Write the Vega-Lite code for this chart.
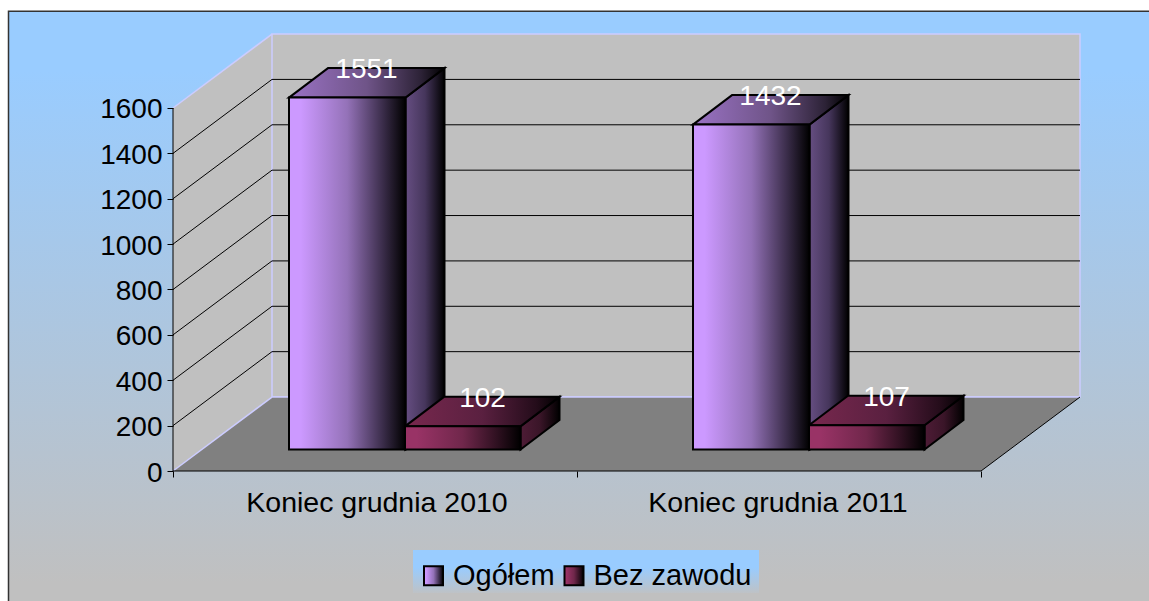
{
"$schema":"https://vega.github.io/schema/vega-lite/v6.json",
"width":1149,"height":601,"padding":0,"autosize":{"type":"none"},"background":"white",
"config":{"view":{"stroke":null},"font":"Liberation Sans","text":{"font":"Liberation Sans"}},
"datasets":{
"bars":[
{"category":"Koniec grudnia 2010","series":"Ogółem","value":1551},
{"category":"Koniec grudnia 2010","series":"Bez zawodu","value":102},
{"category":"Koniec grudnia 2011","series":"Ogółem","value":1432},
{"category":"Koniec grudnia 2011","series":"Bez zawodu","value":107}],
"ticks":[{"tick":200},{"tick":400},{"tick":600},{"tick":800},{"tick":1000},{"tick":1200},{"tick":1400}],
"cats":[{"category":"Koniec grudnia 2010","c":377},{"category":"Koniec grudnia 2011","c":778}],
"one":[{"n":1}]
},
"resolve":{"axis":{"x":"independent","y":"independent"}},
"layer":[
{"data":{"name":"one"},"mark":{"type":"rect","stroke":"#333333","strokeWidth":1.5,"fill":{"gradient":"linear","x1":0,"y1":0,"x2":0,"y2":1,"stops":[{"offset":0,"color":"#99CCFF"},{"offset":0.1,"color":"#99CCFF"},{"offset":0.96,"color":"#C0C0C0"},{"offset":1,"color":"#C0C0C0"}]}},
"encoding":{"x":{"datum":8.5,"type":"quantitative","scale":{"domain":[0,1149],"nice":false,"zero":false},"axis":{"values":[173,577,981],"orient":"bottom","offset":-130,"labels":false,"domain":false,"grid":false,"tickSize":6,"tickColor":"black","title":null,"zindex":1}},"x2":{"datum":1160},
"y":{"datum":2026,"type":"quantitative","scale":{"domain":[-573,2076.03],"nice":false,"zero":false},"axis":{"values":[0,200,400,600,800,1000,1200,1400,1600],"format":"d","orient":"left","offset":-173,"domain":false,"grid":false,"tickSize":6,"tickColor":"black","labelFont":"Liberation Sans","labelFontSize":28,"labelColor":"black","labelPadding":5,"labelOffset":2,"labelFlush":false,"labelOverlap":false,"title":null,"zindex":1}},"y2":{"datum":-600}}},
{"data":{"name":"one"},"transform":[{"calculate":"[0,1]","as":"d"},{"flatten":["d"]},{"calculate":"173+99*datum.d","as":"x"},{"calculate":"1600+326*datum.d","as":"yt"},{"calculate":"326*datum.d","as":"yb"}],
"mark":{"type":"area","fill":"#C0C0C0","orient":"vertical"},
"encoding":{"x":{"field":"x","type":"quantitative","scale":{"domain":[0,1149],"nice":false,"zero":false},"axis":null},"y":{"field":"yt","type":"quantitative","scale":{"domain":[-573,2076.03],"nice":false,"zero":false},"axis":null},"y2":{"field":"yb"}}},
{"data":{"name":"one"},"mark":{"type":"rect","fill":"#C0C0C0","stroke":"#CCCCFF","strokeWidth":1.5},
"encoding":{"x":{"datum":272,"type":"quantitative","scale":{"domain":[0,1149],"nice":false,"zero":false},"axis":null},"x2":{"datum":1080},"y":{"datum":326,"type":"quantitative","scale":{"domain":[-573,2076.03],"nice":false,"zero":false},"axis":null},"y2":{"datum":1926}}},
{"data":{"name":"one"},"transform":[{"calculate":"[0,1]","as":"d"},{"flatten":["d"]},{"calculate":"173+99*datum.d","as":"xa"},{"calculate":"981+99*datum.d","as":"xb"},{"calculate":"326*datum.d","as":"y"}],
"mark":{"type":"area","fill":"#808080","orient":"horizontal"},
"encoding":{"y":{"field":"y","type":"quantitative","scale":{"domain":[-573,2076.03],"nice":false,"zero":false},"axis":null},"x":{"field":"xa","type":"quantitative","scale":{"domain":[0,1149],"nice":false,"zero":false},"axis":null},"x2":{"field":"xb"}}},
{"data":{"name":"one"},"mark":{"type":"rule","color":"#CCCCFF","strokeWidth":1.5},
"encoding":{"x":{"datum":173,"type":"quantitative","scale":{"domain":[0,1149],"nice":false,"zero":false},"axis":null},"x2":{"datum":272},"y":{"datum":1600,"type":"quantitative","scale":{"domain":[-573,2076.03],"nice":false,"zero":false},"axis":null},"y2":{"datum":1926}}},
{"data":{"name":"one"},"mark":{"type":"rule","color":"#CCCCFF","strokeWidth":1.5},
"encoding":{"x":{"datum":173,"type":"quantitative","scale":{"domain":[0,1149],"nice":false,"zero":false},"axis":null},"x2":{"datum":272},"y":{"datum":0,"type":"quantitative","scale":{"domain":[-573,2076.03],"nice":false,"zero":false},"axis":null},"y2":{"datum":326}}},
{"data":{"name":"one"},"mark":{"type":"rule","color":"#CCCCFF","strokeWidth":1.5},
"encoding":{"x":{"datum":272,"type":"quantitative","scale":{"domain":[0,1149],"nice":false,"zero":false},"axis":null},"x2":{"datum":1080},"y":{"datum":326,"type":"quantitative","scale":{"domain":[-573,2076.03],"nice":false,"zero":false},"axis":null}}},
{"data":{"name":"one"},"mark":{"type":"rule","color":"black","strokeWidth":1},
"encoding":{"x":{"datum":981,"type":"quantitative","scale":{"domain":[0,1149],"nice":false,"zero":false},"axis":null},"x2":{"datum":1080},"y":{"datum":0,"type":"quantitative","scale":{"domain":[-573,2076.03],"nice":false,"zero":false},"axis":null},"y2":{"datum":326}}},
{"data":{"name":"one"},"mark":{"type":"rule","color":"black","strokeWidth":1},
"encoding":{"x":{"datum":173,"type":"quantitative","scale":{"domain":[0,1149],"nice":false,"zero":false},"axis":null},"x2":{"datum":981},"y":{"datum":0,"type":"quantitative","scale":{"domain":[-573,2076.03],"nice":false,"zero":false},"axis":null}}},
{"data":{"name":"one"},"mark":{"type":"rule","color":"black","strokeWidth":1},
"encoding":{"x":{"datum":173,"type":"quantitative","scale":{"domain":[0,1149],"nice":false,"zero":false},"axis":null},"y":{"datum":0,"type":"quantitative","scale":{"domain":[-573,2076.03],"nice":false,"zero":false},"axis":null},"y2":{"datum":1600}}},
{"data":{"name":"ticks"},"transform":[{"calculate":"datum.tick+326","as":"back"}],"mark":{"type":"rule","color":"black","strokeWidth":1},
"encoding":{"x":{"datum":173,"type":"quantitative","scale":{"domain":[0,1149],"nice":false,"zero":false},"axis":null},"x2":{"datum":272},"y":{"field":"tick","type":"quantitative","scale":{"domain":[-573,2076.03],"nice":false,"zero":false},"axis":null},"y2":{"field":"back"}}},
{"data":{"name":"ticks"},"transform":[{"calculate":"datum.tick+326","as":"back"}],"mark":{"type":"rule","color":"black","strokeWidth":1},
"encoding":{"x":{"datum":272,"type":"quantitative","scale":{"domain":[0,1149],"nice":false,"zero":false},"axis":null},"x2":{"datum":1080},"y":{"field":"back","type":"quantitative","scale":{"domain":[-573,2076.03],"nice":false,"zero":false},"axis":null}}},
{"data":{"name":"one"},"mark":{"type":"rect","fill":{"gradient":"linear","x1":0,"y1":0,"x2":0,"y2":1,"stops":[{"offset":0,"color":"#99CCFF"},{"offset":0.4,"color":"#99CCFF"},{"offset":1,"color":"#BEC2C6"}]}},
"encoding":{"x":{"datum":413,"type":"quantitative","scale":{"domain":[0,1149],"nice":false,"zero":false},"axis":null},"x2":{"datum":759},"y":{"datum":-348.2,"type":"quantitative","scale":{"domain":[-573,2076.03],"nice":false,"zero":false},"axis":null},"y2":{"datum":-537.7}}},
{"data":{"name":"bars"},"transform":[{"filter":"datum.series=='Ogółem'"},{"calculate":"289+(datum.category=='Koniec grudnia 2010'?0:404)","as":"l"},{"calculate":"[0,1]","as":"d"},{"flatten":["d"]},{"calculate":"datum.l+116.5+39*datum.d","as":"x"},{"calculate":"94.8+datum.value+130*datum.d","as":"yt"},{"calculate":"94.8+130*datum.d","as":"yb"}],
"mark":{"type":"area","orient":"vertical","stroke":"black","strokeWidth":2,"fill":{"gradient":"linear","x1":0,"y1":0,"x2":1,"y2":0,"stops":[{"offset":0,"color":"#664E82"},{"offset":0.5,"color":"#46365C"},{"offset":1,"color":"#000000"}]}},
"encoding":{"detail":{"field":"category"},"x":{"field":"x","type":"quantitative","scale":{"domain":[0,1149],"nice":false,"zero":false},"axis":null},"y":{"field":"yt","type":"quantitative","scale":{"domain":[-573,2076.03],"nice":false,"zero":false},"axis":null},"y2":{"field":"yb"}}},
{"data":{"name":"bars"},"transform":[{"filter":"datum.series=='Bez zawodu'"},{"calculate":"405+(datum.category=='Koniec grudnia 2010'?0:404)","as":"l"},{"calculate":"[0,1]","as":"d"},{"flatten":["d"]},{"calculate":"datum.l+115.5+39*datum.d","as":"x"},{"calculate":"94.8+datum.value+130*datum.d","as":"yt"},{"calculate":"94.8+130*datum.d","as":"yb"}],
"mark":{"type":"area","orient":"vertical","stroke":"black","strokeWidth":2,"fill":{"gradient":"linear","x1":0,"y1":0,"x2":1,"y2":0,"stops":[{"offset":0,"color":"#4E1C36"},{"offset":0.5,"color":"#3A1528"},{"offset":1,"color":"#000000"}]}},
"encoding":{"detail":{"field":"category"},"x":{"field":"x","type":"quantitative","scale":{"domain":[0,1149],"nice":false,"zero":false},"axis":null},"y":{"field":"yt","type":"quantitative","scale":{"domain":[-573,2076.03],"nice":false,"zero":false},"axis":null},"y2":{"field":"yb"}}},
{"data":{"name":"bars"},"transform":[{"filter":"datum.series=='Ogółem'"},{"calculate":"289+(datum.category=='Koniec grudnia 2010'?0:404)","as":"l"},{"calculate":"[0,1]","as":"d"},{"flatten":["d"]},{"calculate":"datum.l+39*datum.d","as":"xa"},{"calculate":"datum.l+116.5+39*datum.d","as":"xb"},{"calculate":"94.8+datum.value+130*datum.d","as":"y"}],
"mark":{"type":"area","orient":"horizontal","stroke":"black","strokeWidth":2,"fill":{"gradient":"linear","x1":0,"y1":0,"x2":1,"y2":0,"stops":[{"offset":0,"color":"#9A72C4"},{"offset":0.5,"color":"#6F5488"},{"offset":0.85,"color":"#2C2236"},{"offset":1,"color":"#000000"}]}},
"encoding":{"detail":{"field":"category"},"y":{"field":"y","type":"quantitative","scale":{"domain":[-573,2076.03],"nice":false,"zero":false},"axis":null},"x":{"field":"xa","type":"quantitative","scale":{"domain":[0,1149],"nice":false,"zero":false},"axis":null},"x2":{"field":"xb"}}},
{"data":{"name":"bars"},"transform":[{"filter":"datum.series=='Bez zawodu'"},{"calculate":"405+(datum.category=='Koniec grudnia 2010'?0:404)","as":"l"},{"calculate":"[0,1]","as":"d"},{"flatten":["d"]},{"calculate":"datum.l+39*datum.d","as":"xa"},{"calculate":"datum.l+115.5+39*datum.d","as":"xb"},{"calculate":"94.8+datum.value+130*datum.d","as":"y"}],
"mark":{"type":"area","orient":"horizontal","stroke":"black","strokeWidth":2,"fill":{"gradient":"linear","x1":0,"y1":0,"x2":1,"y2":0,"stops":[{"offset":0,"color":"#78284E"},{"offset":0.5,"color":"#5A2040"},{"offset":0.85,"color":"#240C1A"},{"offset":1,"color":"#000000"}]}},
"encoding":{"detail":{"field":"category"},"y":{"field":"y","type":"quantitative","scale":{"domain":[-573,2076.03],"nice":false,"zero":false},"axis":null},"x":{"field":"xa","type":"quantitative","scale":{"domain":[0,1149],"nice":false,"zero":false},"axis":null},"x2":{"field":"xb"}}},
{"data":{"name":"bars"},"transform":[{"calculate":"289+(datum.category=='Koniec grudnia 2010'?0:404)+(datum.series=='Ogółem'?0:116)","as":"l"},{"calculate":"datum.l+(datum.series=='Ogółem'?116.5:115.5)","as":"r"},{"calculate":"94.8+datum.value","as":"yt"},{"calculate":"94.8","as":"yb"}],
"mark":{"type":"rect","stroke":"black","strokeWidth":2},
"encoding":{"x":{"field":"l","type":"quantitative","scale":{"domain":[0,1149],"nice":false,"zero":false},"axis":null},"x2":{"field":"r"},"y":{"field":"yt","type":"quantitative","scale":{"domain":[-573,2076.03],"nice":false,"zero":false},"axis":null},"y2":{"field":"yb"},
"color":{"field":"series","type":"nominal","scale":{"domain":["Ogółem","Bez zawodu"],"range":[
{"signal":"{gradient:'linear',x1:0,y1:0,x2:1,y2:0,stops:[{offset:0,color:'#CC99FF'},{offset:0.1,color:'#CC99FF'},{offset:0.5,color:'#9472B8'},{offset:0.8,color:'#3C2E4C'},{offset:1,color:'#000000'}]}"},
{"signal":"{gradient:'linear',x1:0,y1:0,x2:1,y2:0,stops:[{offset:0,color:'#993366'},{offset:0.1,color:'#993366'},{offset:0.5,color:'#70274B'},{offset:0.8,color:'#2E1020'},{offset:1,color:'#000000'}]}"}]},
"legend":{"orient":"none","legendX":414,"legendY":556,"direction":"horizontal","title":null,"columns":2,"symbolType":"square","symbolSize":361,"symbolStrokeColor":"black","symbolStrokeWidth":2,"labelFont":"Liberation Sans","labelFontSize":29,"labelColor":"black","labelLimit":300,"padding":5,"columnPadding":4.5,"labelOffset":5}}}},
{"data":{"name":"bars"},"transform":[{"calculate":"289+(datum.category=='Koniec grudnia 2010'?0:404)+(datum.series=='Ogółem'?0:116)+58+19.5","as":"x"},{"calculate":"94.8+datum.value+85.9","as":"y"}],
"mark":{"type":"text","color":"white","fontSize":28,"font":"Liberation Sans","align":"center","baseline":"alphabetic"},
"encoding":{"text":{"field":"value","type":"quantitative","format":"d"},"x":{"field":"x","type":"quantitative","scale":{"domain":[0,1149],"nice":false,"zero":false},"axis":null},"y":{"field":"y","type":"quantitative","scale":{"domain":[-573,2076.03],"nice":false,"zero":false},"axis":null}}},
{"data":{"name":"cats"},"mark":{"type":"text","color":"black","fontSize":28.5,"font":"Liberation Sans","align":"center","baseline":"alphabetic"},
"encoding":{"text":{"field":"category"},"x":{"field":"c","type":"quantitative","scale":{"domain":[0,1149],"nice":false,"zero":false},"axis":null},"y":{"datum":-179,"type":"quantitative","scale":{"domain":[-573,2076.03],"nice":false,"zero":false},"axis":null}}}
]
}
